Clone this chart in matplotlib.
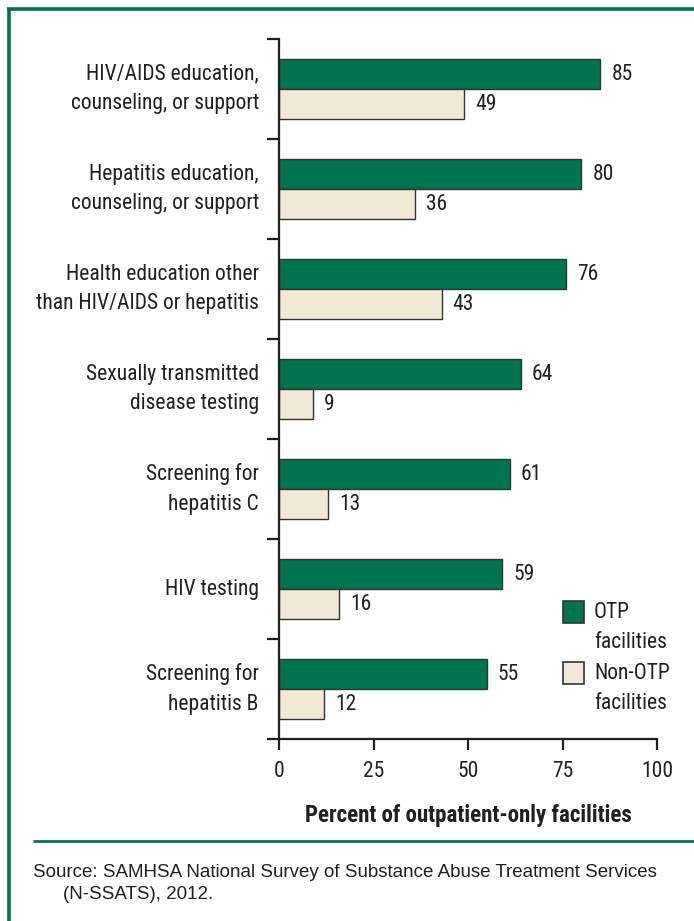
import numpy as np
import matplotlib
matplotlib.use('Agg')
import matplotlib.pyplot as plt
from matplotlib.patches import Rectangle
from matplotlib.lines import Line2D

plt.rcParams['font.family'] = ['Roboto Condensed', 'Liberation Sans', 'DejaVu Sans']

services = ['HIV/AIDS education,\ncounseling, or support',
            'Hepatitis education,\ncounseling, or support',
            'Health education other\nthan HIV/AIDS or hepatitis',
            'Sexually transmitted\ndisease testing',
            'Screening for\nhepatitis C',
            'HIV testing',
            'Screening for\nhepatitis B']
otp = [85, 80, 76, 64, 61, 59, 55]
non_otp = [49, 36, 43, 9, 13, 16, 12]
xticks = [0, 25, 50, 75, 100]

green = '#00734f'
beige = '#f2e8d6'
edge = '#333333'
text_col = '#231f20'
fs = 15.5

W, H = 694, 921
fig = plt.figure(figsize=(W / 100, H / 100), dpi=100)
ax = fig.add_axes([279 / W, 1 - 739 / H, (657 - 279) / W, (739 - 39) / H])

y = np.arange(len(services))
bh = 0.3
ax.barh(y - bh / 2, otp, height=bh, color=green, edgecolor=edge, linewidth=1)
ax.barh(y + bh / 2, non_otp, height=bh, color=beige, edgecolor=edge, linewidth=1)

for yi, v in zip(y, otp):
    ax.text(v + 2.9, yi - bh / 2, str(v), va='center', ha='left', fontsize=fs, color=text_col)
for yi, v in zip(y, non_otp):
    ax.text(v + 2.9, yi + bh / 2, str(v), va='center', ha='left', fontsize=fs, color=text_col)

ax.set_xlim(0, 100)
ax.set_ylim(len(services) - 0.5, -0.5)

# separators as major ticks, category names on minor ticks
ax.set_yticks(np.arange(-0.5, len(services)), labels=[''] * (len(services) + 1))
ax.set_yticks(y, labels=services, minor=True)
ax.tick_params(axis='y', which='major', direction='out', length=8.5, width=1.6, color=text_col)
ax.tick_params(axis='y', which='minor', length=0, pad=14.5, labelsize=fs, labelcolor=text_col)
for lbl in ax.get_yticklabels(minor=True):
    lbl.set_multialignment('right')
    lbl.set_verticalalignment('center')
    lbl.set_linespacing(1.55)

ax.set_xticks(xticks)
ax.tick_params(axis='x', direction='out', length=8, width=1.6, color=text_col, pad=8,
               labelsize=fs, labelcolor=text_col)

for s in ['top', 'right']:
    ax.spines[s].set_visible(False)
for s in ['left', 'bottom']:
    ax.spines[s].set_linewidth(1.6)
    ax.spines[s].set_color(text_col)

ax.set_xlabel('Percent of outpatient-only facilities', fontsize=16.5, fontweight='bold',
              color=text_col, labelpad=16)

# legend keys
for top, lab1, col in [(601, 'OTP', green), (662, 'Non-OTP', beige)]:
    fig.add_artist(Rectangle((563 / W, 1 - (top + 22) / H), 21 / W, 22 / H,
                             facecolor=col, edgecolor=edge, linewidth=1.2,
                             transform=fig.transFigure))
    fig.text(594 / W, 1 - (top + 11) / H, lab1, va='center', ha='left',
             fontsize=fs, color=text_col)
    fig.text(594 / W, 1 - (top + 41) / H, 'facilities', va='center', ha='left',
             fontsize=fs, color=text_col)

# frame and divider lines
fig.add_artist(Line2D([9 / W, 9 / W], [0, 1 - 9 / H], color=green, linewidth=2.6,
                      transform=fig.transFigure, solid_capstyle='butt'))
fig.add_artist(Line2D([7.2 / W, 1], [1 - 9 / H, 1 - 9 / H], color=green, linewidth=2.6,
                      transform=fig.transFigure, solid_capstyle='butt'))
fig.add_artist(Line2D([33 / W, 1], [1 - 841 / H, 1 - 841 / H], color=green, linewidth=2,
                      transform=fig.transFigure, solid_capstyle='butt'))

src_font = ['Liberation Sans', 'DejaVu Sans']
fig.text(33 / W, 1 - 872 / H, 'Source: SAMHSA National Survey of Substance Abuse Treatment Services',
         va='center', ha='left', fontsize=13.5, color=text_col, family=src_font)
fig.text(63 / W, 1 - 894 / H, '(N-SSATS), 2012.',
         va='center', ha='left', fontsize=13.5, color=text_col, family=src_font)

fig.savefig('out.png', dpi=100)
